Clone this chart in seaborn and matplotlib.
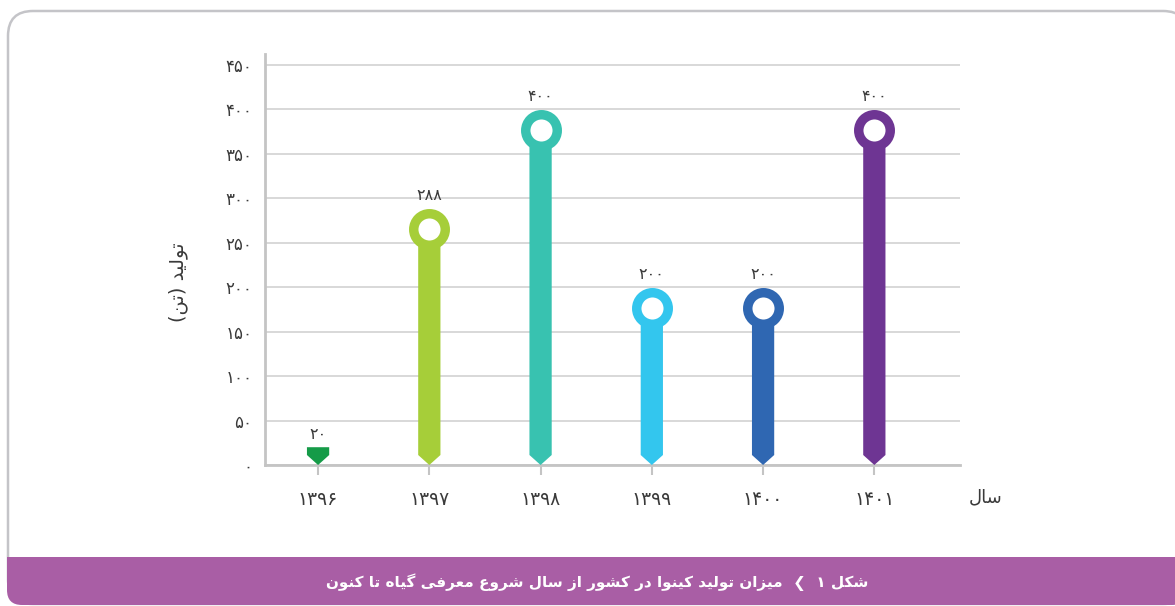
import re
import numpy as np
import matplotlib
matplotlib.use('Agg')
import matplotlib.pyplot as plt
from matplotlib.patches import FancyBboxPatch, Rectangle, Polygon
import seaborn as sns

# 데이터
years = [1396, 1397, 1398, 1399, 1400, 1401]
values = [20, 288, 400, 200, 200, 400]
colors = ['#159b48', '#a6ce39', '#38c2b0', '#33c6ee', '#2f67b2', '#6e3593']
y_ticks = [0, 50, 100, 150, 200, 250, 300, 350, 400, 450]
x_title = 'سال'
y_title = 'تولید (تن)'
caption_num = 'شکل ۱'
caption = 'میزان تولید کینوا در کشور از سال شروع معرفی گیاه تا کنون'

# 아랍 문자 모양(연결형) 간단 처리 - bidi 라이브러리 없이
FORMS = {
    'ا': ('\uFE8D', '\uFE8E'), 'د': ('\uFEA9', '\uFEAA'),
    'ر': ('\uFEAD', '\uFEAE'), 'ز': ('\uFEAF', '\uFEB0'),
    'و': ('\uFEED', '\uFEEE'),
    'ت': ('\uFE95', '\uFE96', '\uFE97', '\uFE98'),
    'ل': ('\uFEDD', '\uFEDE', '\uFEDF', '\uFEE0'),
    'ی': ('\uFEEF', '\uFEF0', '\uFEF3', '\uFEF4'),
    'ن': ('\uFEE5', '\uFEE6', '\uFEE7', '\uFEE8'),
    'س': ('\uFEB1', '\uFEB2', '\uFEB3', '\uFEB4'),
    'ش': ('\uFEB5', '\uFEB6', '\uFEB7', '\uFEB8'),
    'ک': ('\uFB8E', '\uFB8F', '\uFB90', '\uFB91'),
    'م': ('\uFEE1', '\uFEE2', '\uFEE3', '\uFEE4'),
    'ع': ('\uFEC9', '\uFECA', '\uFECB', '\uFECC'),
    'ف': ('\uFED1', '\uFED2', '\uFED3', '\uFED4'),
    'گ': ('\uFB92', '\uFB93', '\uFB94', '\uFB95'),
    'ه': ('\uFEE9', '\uFEEA', '\uFEEB', '\uFEEC'),
}


def fa(text):
    out = []
    for i, ch in enumerate(text):
        f = FORMS.get(ch)
        if f is None:
            out.append(ch)
            continue
        prev = text[i - 1] if i > 0 else ''
        nxt = text[i + 1] if i + 1 < len(text) else ''
        jp = prev in FORMS and len(FORMS[prev]) == 4
        jn = len(f) == 4 and nxt in FORMS
        out.append(f[3] if jp and jn else f[1] if jp else f[2] if jn else f[0])
    s = ''.join({'(': ')', ')': '('}.get(c, c) for c in out[::-1])
    return re.sub('[۰-۹]+', lambda m: m.group(0)[::-1], s)


def fa_num(n):
    return str(n).translate(str.maketrans('0123456789', '۰۱۲۳۴۵۶۷۸۹'))


sns.set_style('white')
plt.rcParams['font.family'] = ['DejaVu Sans']
txt = '#3a3a3a'

W, H = 1175, 606
fig = plt.figure(figsize=(W / 100, H / 100), dpi=100)

# 카드 테두리 + 하단 보라색 띠 (픽셀 좌표)
fig.patches.append(FancyBboxPatch((8, 2), 1180, 593, boxstyle='round,pad=0,rounding_size=25',
                                  fc='white', ec='#c4c4c8', lw=1.8, transform=None, zorder=0))
fig.patches.append(FancyBboxPatch((7, 1), 1180, 48, boxstyle='round,pad=0,rounding_size=15',
                                  fc='#a95ea5', ec='none', transform=None, zorder=1))
fig.patches.append(Rectangle((7, 25), 1180, 24, fc='#a95ea5', ec='none', transform=None, zorder=1))

ax = fig.add_axes([265 / W, 1 - 465 / H, 695 / W, 411 / H])
ax.set_zorder(3)
ax.patch.set_alpha(0)
ax.set_xlim(-0.477, 5.77)
ax.set_ylim(0, 462)
fig.canvas.draw()
ppu = ax.transData.transform((0, 1))[1] - ax.transData.transform((0, 0))[1]  # 단위당 픽셀
ring_r = 20.5 / ppu
tip = 10 / ppu

has_ring = [v > 2 * ring_r for v in values]
heights = [v - ring_r if r else v for v, r in zip(values, has_ring)]
labels = [fa_num(y) for y in years]

sns.barplot(x=labels, y=heights, hue=labels, palette=colors, legend=False,
            width=0.2, saturation=1, ax=ax, zorder=3)
ax.set_xlim(-0.477, 5.77)
ax.set_ylim(0, 462)

# 막대 아래쪽을 뾰족하게
for p in list(ax.patches):
    x0, w, h = p.get_x(), p.get_width(), p.get_height()
    poly = Polygon([(x0, h), (x0 + w, h), (x0 + w, tip), (x0 + w / 2, 0), (x0, tip)],
                   closed=True, fc=p.get_facecolor(), ec='none', zorder=3)
    p.remove()
    ax.add_patch(poly)

for i, (v, h, r, c) in enumerate(zip(values, heights, has_ring, colors)):
    if r:
        ax.scatter(i, h, s=515, facecolor='white', edgecolor=c, linewidth=6.8, zorder=4)
    ax.annotate(fa_num(v), (i, v), xytext=(0, 4), textcoords='offset points',
                ha='center', va='bottom', fontsize=11.5, color=txt)

ax.set_yticks(y_ticks)
ax.set_yticklabels([fa_num(t) for t in y_ticks])
ax.yaxis.grid(True, color='#d2d2d2', lw=1.2)
ax.set_axisbelow(True)
sns.despine(ax=ax)
for s in ['left', 'bottom']:
    ax.spines[s].set_color('#c4c4c4')
    ax.spines[s].set_linewidth(2)
ax.tick_params(axis='y', length=0, pad=9, labelsize=12, labelcolor=txt)
ax.tick_params(axis='x', length=7, width=1.5, color='#c4c4c4', pad=11, labelsize=13.5, labelcolor=txt,
               bottom=True)
ax.set_xlabel('')
ax.set_ylabel('')

fig.text(986 / W, 1 - 497 / H, fa(x_title), ha='center', va='center', fontsize=13, color=txt)
fig.text(178 / W, 1 - 282 / H, fa(y_title), ha='center', va='center', fontsize=14,
         rotation=90, color=txt)
fig.text(597 / W, 1 - 582 / H, fa(caption) + '  ❮  ' + fa(caption_num), ha='center', va='center',
         fontsize=11, fontweight='bold', color='white')

fig.savefig('out.png', dpi=100)
